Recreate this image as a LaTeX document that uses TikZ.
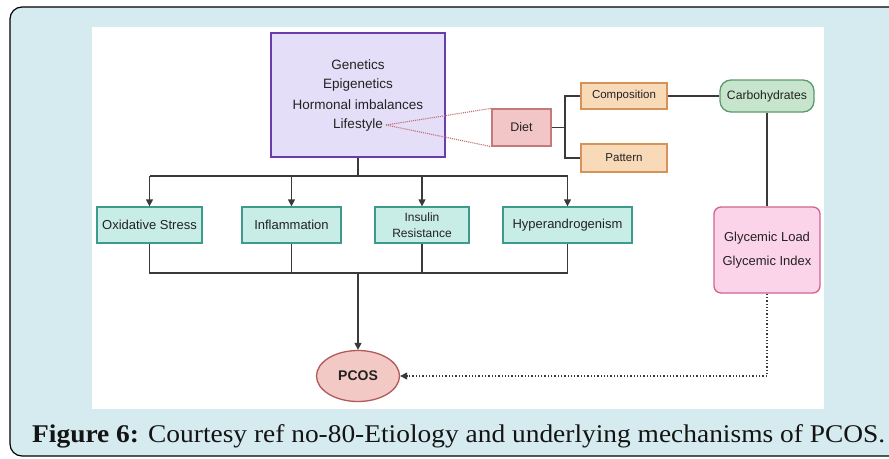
\documentclass[tikz,border=0pt]{standalone}
\usepackage{fontspec}
\setmainfont{Liberation Serif}
\setsansfont{Liberation Sans}
\usetikzlibrary{arrows.meta,shapes.geometric}
\definecolor{bgblue}{HTML}{D6EBF0}
\definecolor{txt}{HTML}{222222}
\definecolor{ln}{HTML}{3A3A3A}
\definecolor{purfill}{HTML}{E5DEF8}
\definecolor{purdraw}{HTML}{6A3DAA}
\definecolor{tealfill}{HTML}{C8EDE6}
\definecolor{tealdraw}{HTML}{3D9B8C}
\definecolor{dietfill}{HTML}{F2C6C6}
\definecolor{dietdraw}{HTML}{C47A7A}
\definecolor{orfill}{HTML}{F8D9B8}
\definecolor{ordraw}{HTML}{D69357}
\definecolor{grfill}{HTML}{C7E4CD}
\definecolor{grdraw}{HTML}{5D9A6A}
\definecolor{pkfill}{HTML}{FCD4EA}
\definecolor{pkdraw}{HTML}{D0648F}
\definecolor{pcfill}{HTML}{F3C9C6}
\definecolor{pcdraw}{HTML}{B25A5A}
\definecolor{reddot}{HTML}{C07070}
\tikzset{
  box/.style={draw, line width=1.3pt, inner sep=0pt, text=txt, font=\sffamily, align=center},
  tealbox/.style={box, fill=tealfill, draw=tealdraw, minimum height=36pt, font=\sffamily\fontsize{13}{14}\selectfont},
  orbox/.style={box, fill=orfill, draw=ordraw, minimum width=86pt, font=\sffamily\fontsize{11.5}{12}\selectfont},
  lbl/.style={inner sep=0pt, text=txt, font=\sffamily\fontsize{13.5}{15}\selectfont},
  conn/.style={draw=ln, line width=1.4pt},
  arr/.style={conn, -{Triangle[length=7pt,width=7pt]}},
}
\begin{document}
\begin{tikzpicture}[x=1pt,y=-1pt]
\useasboundingbox (0,0) rectangle (889,458);
% outer frame
\draw[fill=bgblue, line width=1.2pt, rounded corners=12pt] (10,7) rectangle (905,456);
\fill[white] (92,27) rectangle (824,409);

% top box
\node[box, fill=purfill, draw=purdraw, minimum width=174pt, minimum height=124pt] (top) at (358,95) {};
\node[lbl] (gen) at (358,65) {Genetics};
\node[lbl] (epi) at (358,85) {Epigenetics};
\node[lbl] (hor) at (358,104.5) {Hormonal imbalances};
\node[lbl] (life) at (358,125) {Lifestyle};

% diet branch
\node[box, fill=dietfill, draw=dietdraw, minimum width=59pt, minimum height=37pt, font=\sffamily\fontsize{12.5}{14}\selectfont] (diet) at (521.5,127.5) {Diet};
\node[orbox, minimum height=26pt] (comp) at (624,96) {Composition};
\node[orbox, minimum height=28pt] (pat) at (624,158) {Pattern};
\node[box, fill=grfill, draw=grdraw, rounded corners=11pt, minimum width=94pt, minimum height=32pt, font=\sffamily\fontsize{12.2}{14}\selectfont] (carb) at (767,96) {Carbohydrates};
\node[box, fill=pkfill, draw=pkdraw, rounded corners=7pt, minimum width=106pt, minimum height=86pt, font=\sffamily\fontsize{13}{24}\selectfont] (gly) at (767,250) {Glycemic Load\\Glycemic Index};

% mechanisms
\node[tealbox, minimum width=105pt] (ox) at (149.5,225) {Oxidative Stress};
\node[tealbox, minimum width=99pt] (inf) at (291.5,225) {Inflammation};
\node[tealbox, minimum width=94pt, font=\sffamily\fontsize{12}{16.5}\selectfont] (ins) at (422,225) {Insulin\\Resistance};
\node[tealbox, minimum width=129pt] (hy) at (567.5,225) {Hyperandrogenism};

% PCOS
\node[ellipse, draw=pcdraw, fill=pcfill, line width=1.3pt, minimum width=83pt, minimum height=51pt, inner sep=0pt, text=txt, font=\sffamily\bfseries\fontsize{14}{15}\selectfont] (pcos) at (358,376) {PCOS};

% connectors
\coordinate (hb) at (358,176);
\coordinate (lb) at (358,273);
\coordinate (dj) at (565,127.5);
\draw[conn] (top.south) -- (hb);
\draw[conn] (ox.north |- hb) -- (hy.north |- hb);
\foreach \n in {ox,inf,ins,hy} \draw[arr] (\n.north |- hb) -- (\n.north);
\draw[conn] (ox.south) -- (ox.south |- lb) -- (hy.south |- lb) -- (hy.south);
\draw[conn] (inf.south) -- (inf.south |- lb);
\draw[conn] (ins.south) -- (ins.south |- lb);
\draw[arr] (lb) -- (pcos.north);

\draw[reddot, line width=1.1pt, densely dotted] (life.east) ++(3,0) coordinate (le) -- (diet.north west);
\draw[reddot, line width=1.1pt, densely dotted] (le) -- (diet.south west);

\draw[conn] (diet.east) -- (dj);
\draw[conn] (comp.west) -- (comp.west -| dj) -- (pat.west -| dj) -- (pat.west);
\draw[conn] (comp.east) -- (carb.west);
\draw[conn] (carb.south) -- (gly.north);
\draw[ln, line width=1.3pt, dotted, -{Triangle[length=7pt,width=7pt]}] (gly.south) |- (pcos.east);

% caption
\node[anchor=base west, inner sep=0pt, text=black!92] (cap) at (32,442) {\scalebox{1.075}[1]{\fontsize{25.5}{26}\selectfont\textbf{Figure 6:} Courtesy ref no-80-Etiology and underlying mechanisms of PCOS.}};
\end{tikzpicture}
\end{document}
